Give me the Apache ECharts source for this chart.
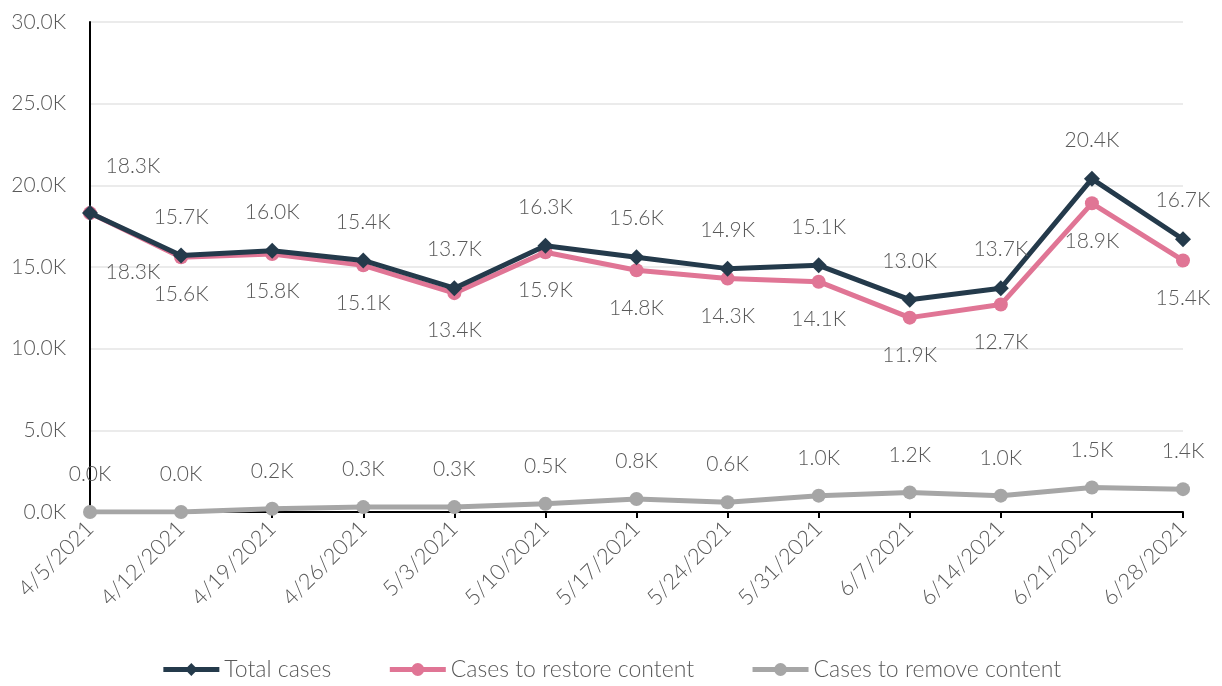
<!DOCTYPE html>
<html>
<head>
<meta charset="utf-8">
<script src="https://cdn.jsdelivr.net/npm/echarts@6/dist/echarts.min.js"></script>
<style>
  html, body { margin: 0; padding: 0; background: #fff; }
  #main { width: 1222px; height: 686px; }
</style>
</head>
<body>
<div id="main"></div>
<script>
  // weekly case counts, in thousands
  var weeks = ['4/5/2021', '4/12/2021', '4/19/2021', '4/26/2021', '5/3/2021', '5/10/2021', '5/17/2021',
    '5/24/2021', '5/31/2021', '6/7/2021', '6/14/2021', '6/21/2021', '6/28/2021']
  var totalCases = [18.3, 15.7, 16.0, 15.4, 13.7, 16.3, 15.6, 14.9, 15.1, 13.0, 13.7, 20.4, 16.7]
  var restoreCases = [18.3, 15.6, 15.8, 15.1, 13.4, 15.9, 14.8, 14.3, 14.1, 11.9, 12.7, 18.9, 15.4]
  var removeCases = [0.0, 0.0, 0.2, 0.3, 0.3, 0.5, 0.8, 0.6, 1.0, 1.2, 1.0, 1.5, 1.4]

  var font = 'Lato, "Noto Sans", sans-serif'
  var weight = 300
  var txt = '#595959'
  var fmtK = function (v) { return v.toFixed(1) + 'K' }

  function lbl(pos) {
    return {
      show: true,
      position: pos,
      distance: 20,
      color: txt,
      fontSize: 21,
      fontFamily: font,
      fontWeight: weight,
      formatter: function (p) { return fmtK(p.value) }
    }
  }

  // first point's labels are nudged right, away from the y axis
  function withFirstOffset(arr, dy) {
    return arr.map(function (v, i) {
      if (i !== 0) return v
      return { value: v, label: { offset: [43, dy] } }
    })
  }

  var chart = echarts.init(document.getElementById('main'))
  chart.setOption({
    animation: false,
    textStyle: { fontFamily: font },
    grid: { left: 90, right: 39, top: 22, bottom: 174 },
    legend: {
      bottom: 0,
      itemWidth: 56,
      itemHeight: 16,
      itemGap: 56,
      lineStyle: { width: 5 },
      textStyle: { color: txt, fontSize: 23, fontFamily: font, fontWeight: weight },
      data: ['Total cases', 'Cases to restore content', 'Cases to remove content']
    },
    xAxis: {
      type: 'category',
      boundaryGap: false,
      data: weeks,
      axisLine: { lineStyle: { color: '#000', width: 2 } },
      axisTick: { show: true, alignWithLabel: true, length: 6, lineStyle: { color: '#000', width: 2 } },
      axisLabel: { rotate: 45, color: txt, fontSize: 22, fontFamily: font, fontWeight: weight, margin: 13 }
    },
    yAxis: {
      type: 'value',
      min: 0,
      max: 30,
      interval: 5,
      axisLine: { show: true, lineStyle: { color: '#000', width: 2 } },
      axisTick: { show: false },
      splitLine: { lineStyle: { color: '#ebebeb', width: 2 } },
      axisLabel: { color: txt, fontSize: 21, fontFamily: font, fontWeight: weight, margin: 24, formatter: fmtK }
    },
    series: [{
      name: 'Total cases',
      type: 'line',
      data: withFirstOffset(totalCases, -8),
      symbol: 'diamond',
      symbolSize: 16,
      z: 4,
      lineStyle: { color: '#243a4b', width: 5 },
      itemStyle: { color: '#243a4b' },
      label: lbl('top')
    }, {
      name: 'Cases to restore content',
      type: 'line',
      data: withFirstOffset(restoreCases, 22),
      symbol: 'circle',
      symbolSize: 14,
      z: 3,
      lineStyle: { color: '#e07595', width: 5 },
      itemStyle: { color: '#e07595' },
      label: lbl('bottom')
    }, {
      name: 'Cases to remove content',
      type: 'line',
      data: removeCases,
      symbol: 'circle',
      symbolSize: 14,
      z: 2,
      lineStyle: { color: '#a6a6a6', width: 5 },
      itemStyle: { color: '#a6a6a6' },
      label: lbl('top')
    }]
  })
</script>
</body>
</html>
